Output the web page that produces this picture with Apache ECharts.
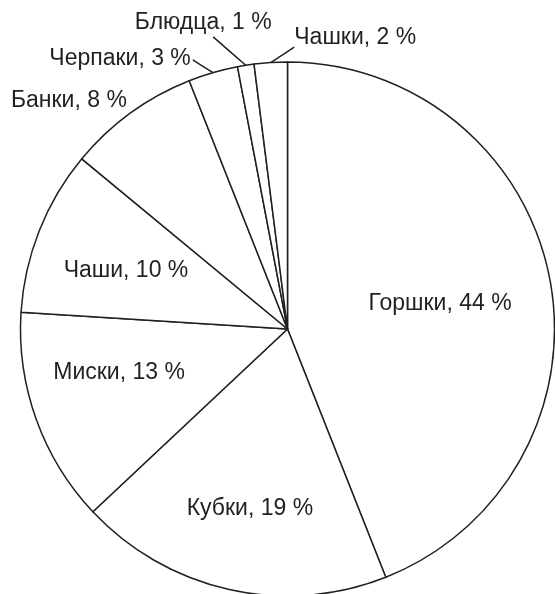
<!DOCTYPE html>
<html>
<head>
<meta charset="utf-8">
<script src="https://cdn.jsdelivr.net/npm/echarts@6/dist/echarts.min.js"></script>
<style>
  html, body { margin: 0; padding: 0; background: #ffffff; }
  #chart { width: 555px; height: 594px; }
</style>
</head>
<body>
<div id="chart"></div>
<script>
// Categories and their shares, percent
const categories = ['Горшки', 'Кубки', 'Миски', 'Чаши', 'Банки', 'Черпаки', 'Блюдца', 'Чашки'];
const shares = [44, 19, 13, 10, 8, 3, 1, 2];

// Pie geometry (px)
const CX = 287.5, CY = 329, R = 267;
const INK = '#231f20';

// Label centres in polar form: [fraction of radius, angle clockwise from 12 o'clock]
const labelPolar = [
  [0.579, 80.7], [0.689, 191.8], [0.652, 255.4], [0.643, 289.8],
  [1.185, 316.3], [1.19, 328.2], [1.189, 344.6], [1.119, 13.1]
];
// Which labels get a leader line, and which side of the label it attaches to
const leaderSide = { 5: 'right', 6: 'bottom', 7: 'bottomLeft' };

const total = shares.reduce((a, b) => a + b, 0);
const midAngles = [];
shares.reduce((cum, v) => { midAngles.push((cum + v / 2) / total * 360); return cum + v; }, 0);

function polar(frac, deg) {
  const a = deg * Math.PI / 180;
  return [CX + frac * R * Math.sin(a), CY - frac * R * Math.cos(a)];
}

const data = categories.map((name, i) => ({
  name: name,
  value: shares[i],
  labelLine: { show: leaderSide[i] !== undefined, length: 10, length2: 0 }
}));

const chart = echarts.init(document.getElementById('chart'), null, { renderer: 'canvas' });
chart.setOption({
  animation: false,
  backgroundColor: '#ffffff',
  series: [{
    type: 'pie',
    center: [CX, CY],
    radius: R,
    startAngle: 90,
    clockwise: true,
    avoidLabelOverlap: false,
    minShowLabelAngle: 0,
    silent: true,
    data: data,
    itemStyle: { color: '#ffffff', borderColor: INK, borderWidth: 1.5 },
    label: {
      show: true,
      position: 'outside',
      formatter: '{b}, {c} %',
      fontFamily: 'Liberation Sans, Arial, sans-serif',
      fontSize: 23,
      color: INK
    },
    labelLine: { lineStyle: { color: INK, width: 1.5 } },
    emphasis: { disabled: true },
    labelLayout: function (p) {
      const i = p.dataIndex;
      const [x, y] = polar(labelPolar[i][0], labelPolar[i][1]);
      const res = { x: x, y: y, align: 'center', verticalAlign: 'middle' };
      const side = leaderSide[i];
      if (side) {
        const w = p.labelRect.width;
        const anchor = polar(1, midAngles[i]);
        let end;
        if (side === 'right') end = [x + w / 2 + 2, y + 1];
        else if (side === 'bottom') end = [x + 10, y + 14];
        else end = [x - w / 2, y + 9];
        res.labelLinePoints = [anchor, [(anchor[0] + end[0]) / 2, (anchor[1] + end[1]) / 2], end];
      }
      return res;
    }
  }]
});
</script>
</body>
</html>
